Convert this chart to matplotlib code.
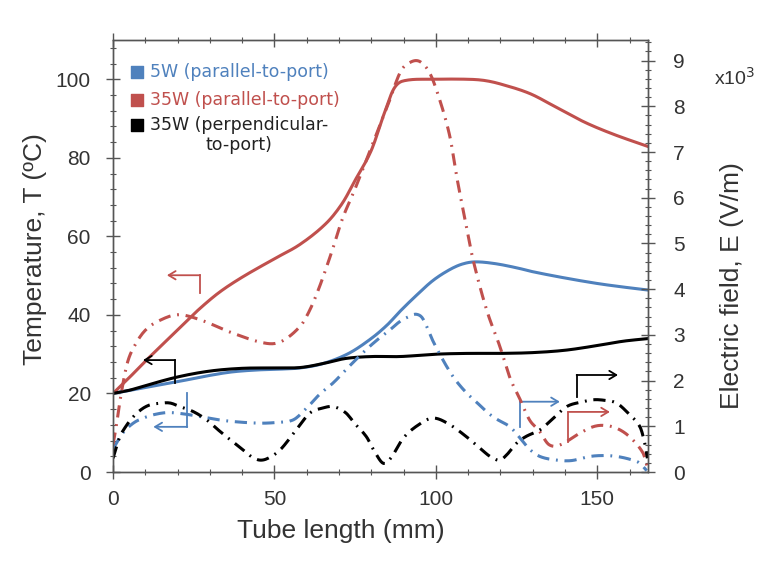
import numpy as np
import matplotlib
matplotlib.use('Agg')
import matplotlib.pyplot as plt
from matplotlib.ticker import MultipleLocator

# ---- temperature profiles (left axis, degC) ----
x_t5 = [0, 10, 20, 30, 37, 45, 52, 58, 65, 73, 80, 85, 89, 94, 99, 104, 108, 112, 118, 125, 130, 140, 150, 158, 166]
t5 = [20, 21.5, 23, 24.6, 25.5, 26, 26.2, 26.5, 27.6, 30.2, 34, 37.5, 41, 45, 48.7, 51.4, 52.9, 53.5, 53.1,
      52, 51, 49.4, 48, 47.1, 46.3]

x_t35 = [0, 5, 10, 17, 22, 27, 33, 40, 50, 58, 66, 71, 75, 80, 84, 87, 90, 100, 110, 115, 120, 129, 137, 146, 155, 166]
t35 = [20, 24, 28.2, 33.8, 37.8, 41.7, 45.8, 49.6, 54.3, 58, 63.3, 68.4, 74.3, 81.9, 91.3, 97.6, 99.6, 100,
       100, 99.7, 98.8, 96.4, 93, 89.1, 86, 82.8]

x_t35p = [0, 5, 10, 20, 30, 40, 50, 58, 65, 72, 80, 89, 100, 110, 120, 130, 140, 150, 158, 166]
t35p = [20, 20.8, 22, 24.2, 25.7, 26.4, 26.5, 26.6, 27.6, 28.9, 29.4, 29.4, 30, 30.2, 30.2, 30.4, 31, 32.2, 33.3, 34]

# ---- electric field profiles (right axis, x10^3 V/m) ----
x_e5 = [0, 3, 6.3, 9.4, 13, 17, 22, 28, 35, 44.5, 50, 55.8, 60, 64, 68.2, 73, 78, 82, 85.8, 89, 92, 94, 96,
        99.2, 103, 106, 109.5, 113, 116, 119, 122.9, 126, 129, 132.2, 137.4, 142, 147.7, 152, 156, 160, 163, 165.3]
e5 = [0.5, 0.85, 1.07, 1.18, 1.26, 1.3, 1.27, 1.2, 1.12, 1.07, 1.08, 1.14, 1.4, 1.7, 1.95, 2.3, 2.65, 2.9, 3.11,
      3.3, 3.41, 3.45, 3.35, 2.85, 2.35, 2.02, 1.73, 1.5, 1.3, 1.15, 0.99, 0.75, 0.5, 0.34, 0.26, 0.25, 0.34,
      0.36, 0.34, 0.28, 0.2, 0.03]

x_e35 = [0, 1, 2.5, 4.5, 7, 10, 14, 20, 27, 37, 47, 52, 58, 61, 64, 68, 71, 75, 80, 85, 89, 92, 95, 98,
         100.7, 104.3, 106.4, 109, 111.5, 115.7, 119.8, 123, 126, 129, 132, 135, 138.4, 144.6, 148.7, 152,
         155.9, 160, 164.2, 165.5]
e35 = [0.6, 1.0, 1.7, 2.4, 2.8, 3.1, 3.3, 3.44, 3.33, 3.04, 2.82, 2.85, 3.19, 3.55, 4.06, 4.87, 5.53, 6.2,
       7.1, 8.0, 8.75, 8.96, 8.98, 8.74, 8.25, 7.35, 6.48, 5.53, 4.65, 3.55, 2.75, 2.05, 1.6, 1.14, 0.9, 0.6,
       0.59, 0.85, 0.99, 1.02, 0.96, 0.77, 0.41, 0.1]

x_e35p = [0, 2, 4, 6.3, 9, 11.5, 14, 17.6, 20.7, 24.9, 29, 32.6, 35.7, 40, 43, 45.5, 48, 51.7, 56, 61, 65,
          68.2, 72, 75, 78.5, 81, 83.7, 86, 90, 95, 99.2, 104, 109.5, 114, 117, 119.8, 122, 125, 128, 132.2,
          136, 140.5, 145, 148.7, 152, 155.9, 159.5, 163.2, 164.7, 165.5]
e35p = [0.3, 0.75, 1.0, 1.21, 1.38, 1.47, 1.5, 1.51, 1.43, 1.32, 1.14, 0.92, 0.74, 0.5, 0.33, 0.26, 0.3, 0.48,
        0.85, 1.29, 1.4, 1.43, 1.3, 1.05, 0.77, 0.45, 0.19, 0.3, 0.75, 1.05, 1.18, 1.05, 0.77, 0.5, 0.33, 0.26,
        0.38, 0.63, 0.78, 0.92, 1.15, 1.43, 1.53, 1.58, 1.57, 1.51, 1.29, 0.99, 0.63, 0.3]

series_names = ['5W (parallel-to-port)', '35W (parallel-to-port)', '35W (perpendicular-\nto-port)']

BLUE = '#4F81BD'
RED = '#C0504D'
BLACK = '#000000'
GREY = '#555555'
TXT = '#333333'

plt.rcParams['font.family'] = ['Liberation Sans', 'DejaVu Sans']


def smooth(xs, ys, n=400):
    # cubic Hermite through the read points (Catmull-Rom tangents)
    xs = np.asarray(xs, float)
    ys = np.asarray(ys, float)
    xx = np.linspace(xs[0], xs[-1], n)
    out = np.interp(xx, xs, ys)
    for k in range(len(xs) - 1):
        x0, x1 = xs[k], xs[k + 1]
        y0, y1 = ys[k], ys[k + 1]
        m0 = (ys[k + 1] - ys[k - 1]) / (xs[k + 1] - xs[k - 1]) if k > 0 else (y1 - y0) / (x1 - x0)
        m1 = (ys[k + 2] - ys[k]) / (xs[k + 2] - xs[k]) if k < len(xs) - 2 else (y1 - y0) / (x1 - x0)
        sel = (xx >= x0) & (xx <= x1)
        h = x1 - x0
        t = (xx[sel] - x0) / h
        out[sel] = ((2 * t**3 - 3 * t**2 + 1) * y0 + (t**3 - 2 * t**2 + t) * h * m0
                    + (-2 * t**3 + 3 * t**2) * y1 + (t**3 - t**2) * h * m1)
    return xx, out


fig = plt.figure(figsize=(7.58, 5.61), dpi=100)
ax = fig.add_axes([113 / 758, 1 - 472 / 561, 535 / 758, 432 / 561])
ax2 = ax.twinx()

dd = (0, (4, 2.2, 0.6, 2.2))
for xs, ys, c in [(x_e5, e5, BLUE), (x_e35, e35, RED), (x_e35p, e35p, BLACK)]:
    xx, yy = smooth(xs, ys)
    ax2.plot(xx, np.clip(yy, 0, None), color=c, lw=2.2, linestyle=dd)

for xs, ys, c in [(x_t5, t5, BLUE), (x_t35, t35, RED), (x_t35p, t35p, BLACK)]:
    xx, yy = smooth(xs, ys)
    ax.plot(xx, yy, color=c, lw=2.2, solid_capstyle='round')

ax.set_xlim(0, 165.7)
ax.set_ylim(0, 110)
ax2.set_ylim(0, 9.45)

ax.xaxis.set_major_locator(MultipleLocator(50))
ax.xaxis.set_minor_locator(MultipleLocator(10))
ax.yaxis.set_major_locator(MultipleLocator(20))
ax.yaxis.set_minor_locator(MultipleLocator(4))
ax2.yaxis.set_major_locator(MultipleLocator(1))
ax2.yaxis.set_minor_locator(MultipleLocator(0.2))

ax.tick_params(which='major', direction='inout', length=10, width=1, color=GREY,
               labelsize=15, labelcolor=TXT, top=True, pad=8)
ax.tick_params(which='minor', direction='inout', length=5, width=0.8, color=GREY, top=True)
ax.tick_params(axis='y', which='major', pad=11)
ax2.tick_params(which='major', direction='inout', length=10, width=1, color=GREY,
                labelsize=15, labelcolor=TXT, pad=13)
ax2.tick_params(which='minor', direction='inout', length=5, width=0.8, color=GREY)
for a in (ax, ax2):
    for s in a.spines.values():
        s.set_color(GREY)
        s.set_linewidth(1)

# small arrows telling which axis each set of curves belongs to
arrows = [
    (RED, (26.9, 45.5), (26.9, 50.1), (16.7, 50.1)),
    (BLACK, (19.2, 22.6), (19.2, 28.5), (9.3, 28.5)),
    (BLUE, (23.0, 20.0), (23.0, 11.5), (12.5, 11.5)),
    (BLUE, (126.0, 11.5), (126.0, 17.9), (138.4, 17.9)),
    (RED, (141.0, 7.7), (141.0, 15.3), (153.9, 15.3)),
    (BLACK, (143.6, 19.2), (143.6, 24.7), (156.4, 24.7)),
]
for c, p0, p1, p2 in arrows:
    ax.plot([p0[0], p1[0]], [p0[1], p1[1]], color=c, lw=1.3, zorder=5)
    ax.annotate('', xy=p2, xytext=p1,
                arrowprops=dict(arrowstyle='->,head_length=0.5,head_width=0.3', color=c, lw=1.3,
                                shrinkA=0, shrinkB=0), zorder=5)

# legend drawn as coloured squares + coloured text
leg_y = [0.926, 0.861, 0.803]
for name, c, yy in zip(series_names, [BLUE, RED, BLACK], leg_y):
    ax.scatter([0.045], [yy], marker='s', s=70, color=c, transform=ax.transAxes, clip_on=False, zorder=6)
    two = '\n' in name
    ax.text(0.069, yy + 0.022 if two else yy, name, color=c if c != BLACK else '#222222', fontsize=12.5,
            transform=ax.transAxes, va='top' if two else 'center', ha='left',
            multialignment='center', family=['DejaVu Sans'])

fig.text(0.046, 1 - 249 / 561, 'Temperature, T (ºC)', rotation=90, fontsize=19,
         color=TXT, ha='center', va='center')
fig.text(0.966, 1 - 286 / 561, 'Electric field, E (V/m)', rotation=90, fontsize=19,
         color=TXT, ha='center', va='center')
fig.text(341 / 758, 1 - 531 / 561, 'Tube length (mm)', fontsize=19, color=TXT, ha='center', va='center')
fig.text(714 / 758, 1 - 78 / 561, 'x10$^3$', fontsize=14, color=TXT, ha='left', va='center')

fig.savefig('out.png', dpi=100)
